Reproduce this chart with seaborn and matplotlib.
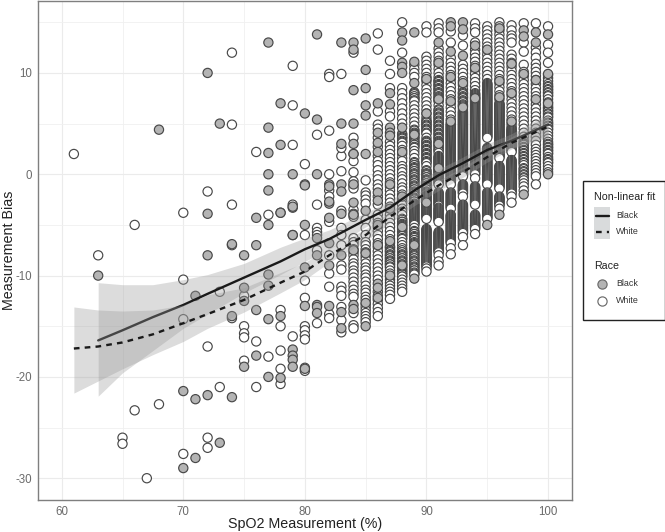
import matplotlib
matplotlib.use('Agg')
import matplotlib.pyplot as plt
from matplotlib.patches import Rectangle
from matplotlib.lines import Line2D
import seaborn as sns
import pandas as pd

# sparse points, left part of the plot
sparse_white_x = [61,63,65,65,66,66,67,68,70,70,70,70,72,72,72,72,73,73,74,74,74,74,74,75,75,75,75,75,76,76,76,77,77,78,78,78,78,78,78,79,79,79,79,79,80,80,80,80,80,80,80,80,80,80,80,81,81,81,81,81,81,81,82,82,82,82,82,82,82,82,82,82,82,82,83,83,83,83,83,83,83,83,83,83,83,83,83,83,83,83]
sparse_white_y = [2,-8,-26,-26.6,-5,-23.3,-30,-22.7,-3.8,-10.4,-14.3,-27.6,-1.7,-17,-26,-27,-11.6,-21,12,4.9,-3,-7,-14.2,-12,-15,-15.7,-16.1,-18.4,2.2,-16.5,-21,-4,-18,-3.8,-13.4,-15,-17.4,-19.2,-20.7,10.7,6.8,2.9,-3,-16,1,-1,-6,-10.5,-12.2,-15,-15.4,-15.9,-16.3,-19.1,-19.4,3.9,-3,-5.3,-5.7,-6,-7.5,-14.7,9.9,9.6,4.3,0,-1.6,-2.2,-4.7,-8,-9.8,-11.1,-13.8,-14.2,9.9,1.8,0.3,-3.6,-5.3,-6,-7,-9,-9.4,-11.1,-11.5,-12,-13.1,-14.4,-15.6,2.6]
sparse_black_x = [63,68,70,70,71,71,71,72,72,72,72,73,73,74,74,74,75,75,75,75,76,76,76,76,77,77,77,77,77,77,77,77,77,77,78,78,78,78,78,79,79,79,79,79,79,79,79,79,80,80,80,80,80,80,81,81,81,81,81,81,81,81,82,82,82,82,82,82,82,82,83,83,83,83,83,83,83,83,83]
sparse_black_y = [-10,4.4,-21.4,-29,-12,-22.2,-28,10,-3.9,-8,-21.8,5,-26.5,-6.9,-14,-22,-8,-11.2,-12.5,-19,-4.3,-7,-13.4,-17.9,13,4.6,2.1,0,-1.6,-5,-9.9,-11,-14.3,-20,7,2.9,-3.8,-14,-20.1,0,-3.3,-6,-17.3,-17.9,-18.3,-19,-3.2,-6,6,-5,-9.2,-13,-1.1,-19.2,13.8,5.4,0,-6.3,-8,-12.9,-13.1,-13.7,-1,-2.9,-4.3,-6.8,-9,-13,-2.7,-1.2,13,5,3,-1,-1.7,-3.9,-8,-13.6,-15.2]

# denser columns, one list per SpO2 value
w84 = [12,3.6,2,1.3,0.2,-0.7,-1.1,-1.4,-3.5,-3.9,-4.2,-6.3,-6.7,-7,-7.4,-7.7,-8,-8.4,-8.8,-9.1,-9.5,-9.8,-10.2,-10.6,-11,-11.4,-11.8,-12.1,-13.7,-14.9,-15.2]
b84 = [13,12.3,8.3,5,3,2,-1,-2.8,-4,-7.5,-12.9,-13.3]
w85 = [-0.6,-1.8,-2.1,-2.5,-2.9,-4.5,-5.3,-6,-6.7,-7,-7.4,-7.7,-8.1,-8.4,-8.8,-9.2,-9.5,-9.9,-10.2,-10.6,-11,-11.4,-11.7,-12.1,-12.4,-12.8,-13.1,-13.4,-13.7,-14,-14.3,-14.6]
b85 = [13.4,10.3,8.5,6.8,5.8,2,-3.6,-7.8,-12.7,-15]
w86 = [13.9,12.3,6.2,4.9,4.5,3.6,2.7,1.8,1.3,0.9,0.4,-0.1,-0.5,-1,-1.4,-2.2,-3,-4,-4.4,-4.8,-5.2,-5.6,-6,-6.4,-6.8,-7.2,-7.6,-8,-8.4,-8.8,-9.2,-9.6,-10,-10.4,-11.6,-12,-12.4,-12.8,-13.2,-13.6,-14]
b86 = [7,4.1,3.1,2.2,-1.8,-2.6,-5,-7,-10.8,-11.2,-12.2]
w87 = [11.2,9.9,8.5,6.2,5.7,3.2,2.8,2.4,2,1.6,1.2,0.8,0.4,0,-0.4,-0.8,-1.2,-1.6,-2,-2.4,-2.8,-3.2,-3.6,-4,-4.4,-4.8,-5.2,-5.6,-6,-6.4,-6.8,-7.2,-7.6,-8,-8.3,-8.6,-8.9,-9.2,-9.5,-9.8,-10.1,-10.4,-10.7,-11,-11.3,-11.6,-11.9,-12.3]
b87 = [8,6.9,4.6,4.1,3.8,-1,-3.4,-6.6,-10]
w88 = [15,12,8.5,8,7.5,7,6.5,6,5.5,5,4,3.6,3.2,2.8,2.4,2,1.6,1.3,0.8,0.5,0.2,-0.2,-0.5,-0.9,-1.3,-1.6,-2,-2.4,-2.7,-3,-3.4,-3.7,-4,-4.4,-4.7,-5,-5.4,-5.7,-6,-6.4,-6.7,-7,-7.3,-7.7,-8,-8.3,-8.6,-8.9,-9.2,-9.5,-9.8,-10.1,-10.4,-10.7,-11,-11.3,-11.6]
b88 = [14,13.2,11,10.6,10,4.6,2.2,-2.2,-5.2,-9]
w89 = [10.8,10.4,10,9.6,8,7.5,7.2,6.8,6.4,6,5.6,5.2,4.8,4.4,4,3.6,3.2,2.9,2.6,2.3,2,1.6,1.2,0.9,0.6,0.3,0,-0.3,-0.6,-0.9,-1.2,-1.5,-1.8,-2.1,-2.4,-2.7,-3,-3.2,-3.4,-3.6,-3.8,-4,-4.2,-4.4,-4.6,-4.8,-5,-5.3,-5.6,-5.9,-6.2,-6.5,-6.8,-7.1,-7.4,-7.7,-8,-8.3,-8.6,-8.9,-9.2,-9.5,-9.8]
b89 = [14,11.1,9,3.9,-7,-10.3]
w90 = [14.6,14,11.6,11.2,10.8,10.4,10,9.6,9.2,8.8,8.4,8,7.6,7.2,6.8,6.4,6,5.6,5.2,4.8,4.4,4,3.6,3.2,2.8,2.4,2,1.6,1.2,0.8,0.4,0,-0.3,-0.6,-0.9,-1.2,-1.5,-1.8,-2,-2.2,-2.4,-2.6,-2.8,-3,-3.2,-3.4,-3.6,-3.8,-4,-4.2,-4.4,-5.4,-5.6,-5.8,-6,-6.2,-6.4,-6.6,-6.8,-7,-7.2,-7.4,-7.6,-7.8,-8,-8.2,-8.4,-8.6,-8.8,-9,-9.3,-9.6]
b90 = [9.4,6,-2.8]
w91 = [14.9,14.4,14,12.4,12,11.6,11.2,10.8,10.4,10,9.6,9.2,8.8,8.4,8,7.6,7.2,6.8,6.4,6,5.6,5.2,4.8,4.4,4,3.6,3.2,2.8,2.4,2.1,1.8,1.6,1.4,1.2,1,0.8,0.6,0.4,0.2,0,-0.2,-0.4,-0.6,-0.8,-1,-1.8,-2,-2.2,-2.4,-2.6,-2.8,-3,-3.3,-3.5,-3.7,-3.9,-4.1,-4.3,-4.5,-4.7,-5.7,-5.9,-6.1,-6.3,-6.5,-6.7,-6.9,-7.1,-7.3,-7.5,-7.7,-8,-8.6,-9]
b91 = [13,11,7.4,3,0.6]
w92 = [14.1,13,11.5,11,10.6,10.2,9.8,9.4,9,8.6,8.2,7.8,7.4,7,6.6,6.2,5.8,5.4,5,4.8,4.6,4.4,4.2,4,3.8,3.6,3.4,3.2,3,2.8,2.6,2.4,2.2,2,1.8,1.6,1.4,1.2,1,0.8,0.6,0.4,0.2,0,-0.2,-0.4,-0.6,-0.8,-1,-1.8,-2,-2.2,-2.4,-2.6,-2.8,-3,-3.2,-3.4,-4,-4.2,-4.4,-4.6,-4.8,-5,-5.2,-5.4,-5.6,-5.8,-6,-6.2,-6.4,-6.6,-6.8,-7.3,-7.9]
b92 = [15,14.6,12.1,9.6,7.2,5.2]
w93 = [13.7,12.7,10.8,10.4,10,9.6,9.2,8.8,8.4,8,7.6,7.2,6.8,6.4,6.2,6,5.8,5.6,5.4,5.2,5,4.8,4.6,4.4,4.2,4,3.8,3.6,3.4,3.2,3,2.8,2.6,2.4,2.2,2,1.8,1.6,1.4,1.2,1,0.8,0.6,0.4,0.2,0,-0.2,-1,-1.2,-1.4,-1.6,-1.8,-2.2,-3,-3.2,-3.4,-3.6,-3.8,-4,-4.2,-4.4,-4.6,-4.8,-5,-5.2,-5.4,-5.6,-5.8,-6.2,-7]
b93 = [15,14.3,11.7,9,6.6]
w94 = [14.9,14.4,14,13,12.3,11.9,11.5,11.1,10.7,10.3,9.9,9.5,9.1,8.7,8.3,8,7.8,7.6,7.4,7.2,7,6.8,6.6,6.4,6.2,6,5.8,5.6,5.4,5.2,5,4.8,4.6,4.4,4.2,4,3.8,3.6,3.4,3.2,3,2.8,2.6,2.4,2.2,2,1.8,1.6,1.4,1.2,1,0.8,0.6,0.4,0.2,0,-0.4,-1.2,-1.4,-1.6,-1.8,-2,-2.2,-2.4,-2.6,-2.8,-3,-4,-4.2,-4.4,-4.6,-4.8,-5,-5.2,-5.4,-5.9]
b94 = [12.7,10.5,7.5]
w95 = [14.6,14.2,13.8,13.4,13,12.6,12.2,11.8,11.4,11,10.6,10.2,9.8,9.4,9,8.8,8.6,8.4,8.2,8,7.8,7.6,7.4,7.2,7,6.8,6.6,6.4,6.2,6,5.8,5.6,5.4,5.2,5,4.8,4.6,4.4,4.2,4,3.8,3.6,2.6,2.4,2.2,2,1.8,1.6,1.4,1.2,1,0.8,0.6,0.4,0.2,0,-0.2,-0.4,-0.6,-0.8,-1,-1.8,-2,-2.2,-2.4,-2.6,-2.8,-3,-3.2,-3.4,-3.6,-3.8,-4,-4.2,-4.4]
b95 = [12.3,-5]
w96 = [15,14.6,14.2,13.8,13.4,13,12.6,12.2,11.8,11.4,11,10.6,10.2,9.8,9.4,9,8.6,8.2,7.8,7.4,7,6.8,6.6,6.4,6.2,6,5.8,5.6,5.4,5.2,5,4.8,4.6,4.4,4.2,4,3.8,3.6,3.4,3.2,3,2.8,2.6,2.4,2.2,2,1.8,1.6,0.8,0.6,0.4,0.2,0,-0.2,-0.4,-0.6,-0.8,-1,-1.2,-1.4,-2.2,-2.4,-2.6,-2.8,-3,-3.4]
b96 = [14.4,9.2,7.6,-4]
w97 = [14.7,14.2,13.7,13.4,13,11.8,11.4,11,10.6,10.2,9.8,9.4,9,8.6,8.2,7.8,7.4,7,6.6,6.2,5.8,5.4,5,4.7,4.4,4.2,4,3.8,3.6,3.4,3.2,3,2.8,2.6,2.4,2.2,1.4,1.2,1,0.8,0.6,0.4,0.2,0,-0.2,-0.4,-0.6,-0.8,-1,-1.2,-1.4,-1.6,-1.8,-2.2,-2.8]
b97 = [10.9,8,5.2]
w98 = [14.9,13,12.1,10.8,10.1,9.7,9.3,8.9,8.5,8.1,7.7,7.3,6.9,6.5,6.1,5.7,5.3,4.9,4.5,4.1,3.7,3.3,3,2.7,2.4,2.1,1.8,1.5,1.2,0.9,0.6,0.3,0,-0.3,-0.6,-0.9,-1.2,-1.6]
b98 = [14.2,13.6,9.9,-2]
w99 = [14.9,12.5,12,11.5,10.9,10.5,10.1,9.7,9.3,8.9,8.5,8.1,7.7,7.3,6.9,6.5,6.1,5.7,5.3,4.9,4.5,4.1,3.7,3.3,2.9,2.5,2.2,1.9,1.6,1.3,1,0.7,0.4,0.1,-0.2,-1]
b99 = [14,13,9.3,7.4]
w100 = [14.6,12.8,12,11,9.8,9.5,9.2,8.9,8.6,8.3,8,7.7,7.4,7.1,6.8,6.5,6.2,5.9,5.6,5.3,5,4.7,4.4,4.1,3.8,3.5,3.2,2.9,2.6,2.3,2,1.7,1.4,1.1,0.8,0.5,0.2]
b100 = [13.8,9.9,7,0]

# extra readings where the columns go solid dark
d87 = [-7.1,-7.3,-7.5,-7.7,-7.9,-8.1,-8.3,-8.5,-8.7,-8.9,-9.1]
d88 = [3.9,3.7,3.5,3.3,3.1,-4.5,-4.7,-4.9,-5.1,-5.3,-5.5,-5.7,-5.9,-6.1,-6.3,-7.5,-7.7,-7.9,-8.1,-8.3,-8.5,-8.7,-8.9,-9.1,-9.3,-9.5,-9.7,-9.9,-10.1]
d89 = [8.1,7.9,7.7,7.5,7.3,4.3,4.1,3.9,3.7,3.5,3.3,3.1,2.9,2.7,1.1,0.9,0.7,0.5,0.3,0.1,-0.1,-0.3,-0.5,-0.7,-0.9,-1.1,-1.3,-1.5,-1.7,-1.9,-2.1,-2.3,-2.5,-2.7,-2.9,-3.1,-3.3,-3.5,-3.7,-3.9,-4.1,-4.3,-4.5,-4.7,-4.9,-5.7,-5.9,-6.1,-6.3,-6.5,-6.7,-6.9,-7.1,-7.3,-7.5,-7.7,-7.9,-8.1,-8.3,-8.5,-8.7,-8.9,-9.1,-9.3,-9.5,-9.7,-9.9]
d90 = [5.3,5.1,4.9,4.7,4.5,4.3,4.1,3.3,3.1,2.9,2.7,2.5,2.3,2.1,1.9,1.7,1.5,1.3,1.1,0.3,0.1,-0.1,-0.3,-0.5,-0.7,-0.9,-1.1,-1.3,-1.5,-1.7,-1.9,-2.1,-2.3,-2.5,-2.7,-2.9,-3.1,-3.3,-3.5,-3.7,-3.9,-4.1,-4.3,-5.5,-5.7,-5.9,-6.1,-6.3,-6.5,-6.7,-6.9,-7.1,-7.3,-7.5,-7.7,-7.9,-8.1,-8.3,-8.5,-8.7,-8.9,-9.1]
d91 = [9.3,9.1,8.9,8.7,8.5,8.3,8.1,7.9,7.7,7.5,7.3,6.3,6.1,5.9,5.7,5.5,5.3,5.1,4.9,4.7,4.5,4.3,4.1,3.9,3.7,3.5,3.3,3.1,2.9,2.7,2.5,2.3,1.7,1.5,1.3,1.1,0.9,0.7,0.5,0.3,0.1,-0.1,-0.3,-0.5,-0.7,-0.9,-1.9,-2.1,-2.3,-2.5,-2.7,-2.9,-3.1,-3.4,-3.6,-3.8,-4,-4.2,-4.4,-4.6,-5.8,-6,-6.2,-6.4,-6.6,-6.8,-7,-7.2,-7.4,-7.6]
d92 = [4.9,4.7,4.5,4.3,4.1,3.9,3.7,3.5,3.3,3.1,2.9,2.7,2.5,2.3,2.1,1.9,1.7,1.5,1.3,1.1,0.9,0.7,0.5,0.3,0.1,-0.1,-0.3,-0.5,-0.7,-0.9,-1.9,-2.1,-2.3,-2.5,-2.7,-2.9,-3.1,-3.3,-4.1,-4.3,-4.5,-4.7,-4.9,-5.1,-5.3,-5.5,-5.7,-5.9,-6.1,-6.3,-6.5,-6.7]
d93 = [8.1,7.9,7.7,7.5,7.3,7.1,6.9,6.7,6.1,5.9,5.7,5.5,5.3,5.1,4.9,4.7,4.5,4.3,4.1,3.9,3.7,3.5,3.3,3.1,2.9,2.7,2.5,2.3,2.1,1.9,1.7,1.5,1.3,1.1,0.9,0.7,0.5,0.3,0.1,-0.1,-1.1,-1.3,-1.5,-1.7,-1.9,-3.1,-3.3,-3.5,-3.7,-3.9,-4.1,-4.3,-4.5,-4.7,-4.9,-5.1,-5.3,-5.5,-5.7]
d94 = [7.9,7.7,7.5,7.3,7.1,6.9,6.7,6.5,6.3,6.1,5.9,5.7,5.5,5.3,5.1,4.9,4.7,4.5,4.3,4.1,3.9,3.7,3.5,3.3,3.1,2.9,2.7,2.5,2.3,2.1,1.9,1.7,1.5,1.3,1.1,0.9,0.7,0.5,0.3,0.1,-1.3,-1.5,-1.7,-1.9,-2.1,-2.3,-2.5,-2.7,-2.9,-4.1,-4.3,-4.5,-4.7,-4.9,-5.1,-5.3]
d95 = [8.9,8.7,8.5,8.3,8.1,7.9,7.7,7.5,7.3,7.1,6.9,6.7,6.5,6.3,6.1,5.9,5.7,5.5,5.3,5.1,4.9,4.7,4.5,4.3,4.1,3.9,3.7,2.5,2.3,2.1,1.9,1.7,1.5,1.3,1.1,0.9,0.7,0.5,0.3,0.1,-0.1,-0.3,-0.5,-0.7,-0.9,-1.9,-2.1,-2.3,-2.5,-2.7,-2.9,-3.1,-3.3,-3.5,-3.7,-3.9,-4.1,-4.3]
d96 = [6.9,6.7,6.5,6.3,6.1,5.9,5.7,5.5,5.3,5.1,4.9,4.7,4.5,4.3,4.1,3.9,3.7,3.5,3.3,3.1,2.9,2.7,2.5,2.3,2.1,1.9,1.7,0.7,0.5,0.3,0.1,-0.1,-0.3,-0.5,-0.7,-0.9,-1.1,-1.3,-2.3,-2.5,-2.7,-2.9,-3.1]
d97 = [4.5,4.3,4.1,3.9,3.7,3.5,3.3,3.1,2.9,2.7,2.5,2.3,1.3,1.1,0.9,0.7,0.5,0.3,0.1,-0.1,-0.3,-0.5,-0.7,-0.9,-1.1,-1.3,-1.5,-1.7,-1.9]
d98 = [3.1,2.9,2.6,2.3,2,1.7,1.4,1.1,0.5,0.2,-0.1,-0.4]
d100 = [8.7,8.4,8.1,7.8,6.6,6.3,6,5.7,5.1,4.8,4.5,3,2.7,2.4,2.1,1.5,1.2]

white_cols = [w84,w85,w86,w87,w88,w89,w90,w91,w92,w93,w94,w95,w96,w97,w98,w99,w100]
black_cols = [b84,b85,b86,b87,b88,b89,b90,b91,b92,b93,b94,b95,b96,b97,b98,b99,b100]
dark_cols = [[],[],[],d87,d88,d89,d90,d91,d92,d93,d94,d95,d96,d97,d98,[],d100]
col_spo2 = [84,85,86,87,88,89,90,91,92,93,94,95,96,97,98,99,100]

# fitted curves with their ribbons
fit_black_x = [63,65,67.5,70,72,75,78,80,82,85,87,89,91,93,95,97,100]
fit_black_y = [-16.4,-15.4,-14.1,-12.9,-11.8,-10.2,-8.6,-7.4,-6.4,-4.5,-3.3,-1.6,-0.1,1.1,2.4,3.3,4.9]
fit_black_hi = [-10.7,-10.9,-10.9,-10.4,-9.9,-8.8,-7.2,-6.3,-5.5,-3.8,-2.6,-1,0.5,1.7,3,4,6]
fit_black_lo = [-21.9,-19.6,-17.4,-15.2,-13.8,-11.7,-9.9,-8.6,-7.4,-5.2,-4,-2.2,-0.7,0.5,1.8,2.6,3.8]
fit_white_x = [61,63,65,67.5,70,72,75,78,80,82,85,87,89,91,93,95,97,100]
fit_white_y = [-17.2,-17,-16.6,-15.8,-14.7,-13.8,-12.4,-10.7,-9.6,-8,-6,-4.2,-2.6,-1.1,0.2,1.7,3.1,4.7]
fit_white_hi = [-13.1,-13.4,-13.5,-13.4,-12.9,-11.9,-11.2,-9.7,-8.7,-7.3,-5.4,-3.7,-2.1,-0.6,0.7,2.2,3.7,5.8]
fit_white_lo = [-21.6,-20.4,-19.2,-17.8,-16.5,-15.2,-13.6,-11.7,-10.4,-8.7,-6.6,-4.8,-3.1,-1.6,-0.3,1.2,2.5,3.6]

sns.set_style("white")
plt.rcParams['font.family'] = ['Liberation Sans', 'DejaVu Sans']
plt.rcParams['axes.unicode_minus'] = False

rows = []
for x, y in zip(sparse_white_x, sparse_white_y):
    rows.append((x, y, 'White'))
for x, col, extra in zip(col_spo2, white_cols, dark_cols):
    # high values first so each lower ring sits on top, like the stacks in the chart
    for y in sorted(col + extra, reverse=True):
        rows.append((x, y, 'White'))
for x, y in zip(sparse_black_x, sparse_black_y):
    rows.append((x, y, 'Black'))
for x, col in zip(col_spo2, black_cols):
    for y in col:
        rows.append((x, y, 'Black'))
df = pd.DataFrame(rows, columns=['spo2', 'bias', 'race'])

fig = plt.figure(figsize=(6.65, 5.32), dpi=100)
W, H = 665, 532
ax = fig.add_axes([38/W, 1-500/H, (572-38)/W, 499/H])

sns.scatterplot(data=df, x='spo2', y='bias', hue='race', palette={'Black': '#b4b4b4', 'White': 'white'},
                s=44, edgecolor='#484848', linewidth=0.85, legend=False, ax=ax, zorder=2)

ax.fill_between(fit_black_x, fit_black_lo, fit_black_hi, color='#999999', alpha=0.34, lw=0, zorder=3)
sns.lineplot(x=fit_black_x, y=fit_black_y, color='#1a1a1a', linewidth=1.7, errorbar=None, ax=ax, zorder=4)
ax.fill_between(fit_white_x, fit_white_lo, fit_white_hi, color='#999999', alpha=0.34, lw=0, zorder=5)
sns.lineplot(x=fit_white_x, y=fit_white_y, color='#1a1a1a', linewidth=1.7, errorbar=None, ax=ax, zorder=6,
             linestyle=(0, (2.4, 2.2)))

ax.set_xlim(58.05, 101.97)
ax.set_ylim(-32.15, 17.1)
ax.set_xticks([60, 70, 80, 90, 100])
ax.set_xticks([65, 75, 85, 95], minor=True)
ax.set_yticks([-30, -20, -10, 0, 10])
ax.set_yticks([-25, -15, -5, 5, 15], minor=True)
ax.grid(True, which='major', color='#ebebeb', linewidth=0.8, zorder=0)
ax.grid(True, which='minor', color='#f0f0f0', linewidth=0.6, zorder=0)
ax.set_axisbelow(True)
ax.tick_params(which='both', length=0)
ax.tick_params(axis='both', which='major', labelsize=8.3, labelcolor='#6a6a6a', pad=4)
ax.set_xlabel('SpO2 Measurement (%)', fontsize=10.3, color='#222222')
ax.set_ylabel('Measurement Bias', fontsize=10.3, color='#222222')
ax.xaxis.set_label_coords(0.5, -0.034)
ax.yaxis.set_label_coords(-0.041, 0.5)
for s in ax.spines.values():
    s.set_visible(True)
    s.set_color('#7f7f7f')
    s.set_linewidth(1.0)

# legend box, laid out in pixels
leg = fig.add_axes([0, 0, 1, 1], facecolor='none')
leg.set_xlim(0, W)
leg.set_ylim(H, 0)
leg.axis('off')
leg.add_patch(Rectangle((583, 181), 81.5, 139, facecolor='white', edgecolor='#222222', lw=1.0))
leg.text(594, 197, 'Non-linear fit', fontsize=7.7, va='center', color='#222222')
leg.add_patch(Rectangle((594, 207), 16, 32, facecolor='#d9dbdc', edgecolor='none'))
leg.add_line(Line2D([596, 609], [215.5, 215.5], color='#1a1a1a', lw=1.7))
leg.add_line(Line2D([596, 609], [232, 232], color='#1a1a1a', lw=1.7, linestyle=(0, (2.4, 2.2))))
leg.text(616, 215.5, 'Black', fontsize=6.4, va='center', color='#333333')
leg.text(616, 232, 'White', fontsize=6.4, va='center', color='#333333')
leg.text(594, 266, 'Race', fontsize=7.7, va='center', color='#222222')
leg.scatter([602], [284], s=44, color='#b4b4b4', edgecolor='#6a6a6a', linewidth=0.85)
leg.scatter([602], [300.5], s=44, color='white', edgecolor='#6a6a6a', linewidth=0.85)
leg.text(616, 284, 'Black', fontsize=6.4, va='center', color='#333333')
leg.text(616, 300.5, 'White', fontsize=6.4, va='center', color='#333333')

fig.savefig('out.png', dpi=100)
